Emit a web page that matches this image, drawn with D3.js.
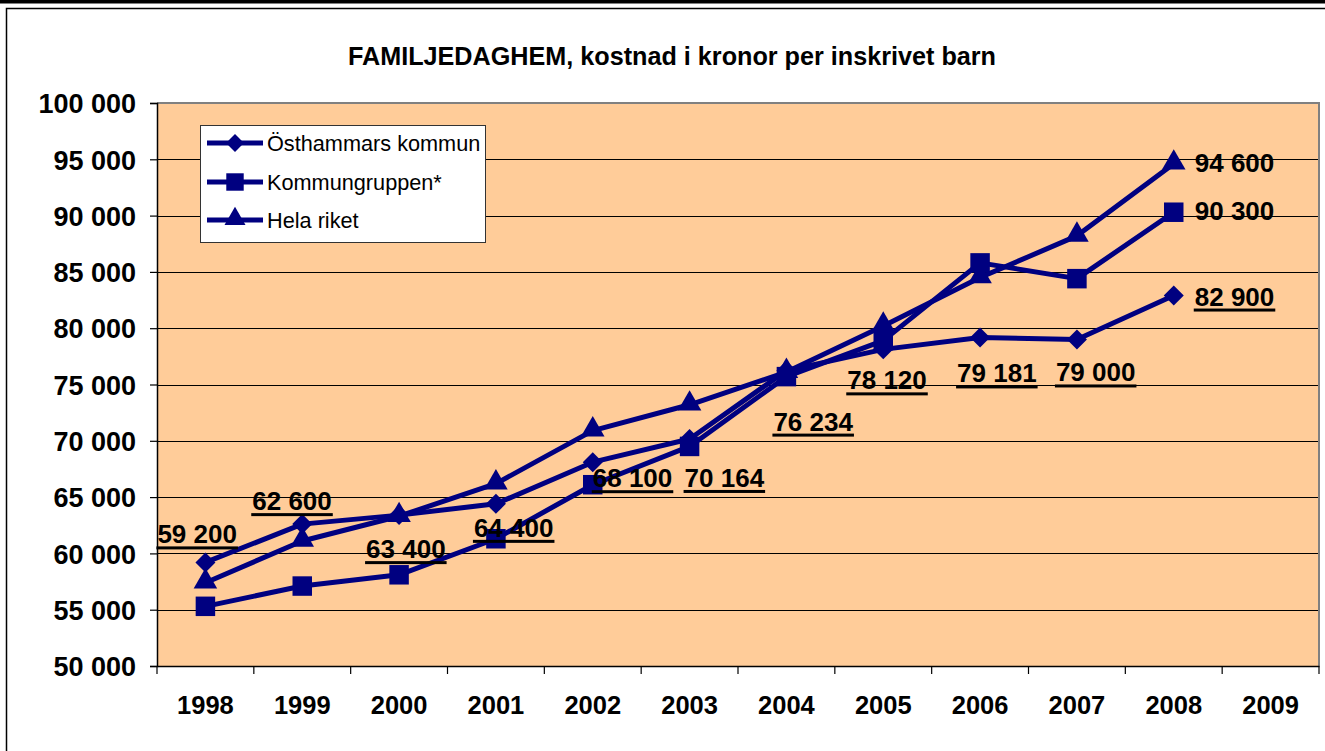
<!DOCTYPE html>
<html><head><meta charset="utf-8">
<script src="https://cdn.jsdelivr.net/npm/d3@7"></script>
<style>
html,body{margin:0;padding:0;background:#fff;}
svg{display:block;font-family:"Liberation Sans",Arial,Helvetica,sans-serif;}
</style></head>
<body><svg id="chart" width="1325" height="751"></svg>
<script>
// ---- data ----
const years = ["1998","1999","2000","2001","2002","2003","2004","2005","2006","2007","2008","2009"];
const osthammar = [59200, 62600, 63400, 64400, 68100, 70164, 76234, 78120, 79181, 79000, 82900, null];
const kommungruppen = [55300, 57100, 58100, 61300, 66100, 69500, 75700, 78900, 85800, 84400, 90300, null];
const helaRiket = [57400, 61100, 63300, 66200, 70900, 73200, 76100, 80200, 84500, 88200, 94600, null];
const seriesNames = ["Östhammars kommun", "Kommungruppen*", "Hela riket"];
const yTicks = [50000, 55000, 60000, 65000, 70000, 75000, 80000, 85000, 90000, 95000, 100000];

// label placement (layout, px offsets from the point): [seriesIndex, yearIndex, dx, dy, underline]
const labelPlacement = [
  [0,0,-48,-19,true],[0,1,-50,-14,true],[0,2,-33,43,true],[0,3,-22,33,true],
  [0,4,0,25,true],[0,5,-5,48,true],[0,6,-13,60,true],[0,7,-36,40,true],
  [0,8,-23,45,true],[0,9,-21,42,true],[0,10,21,10,true],
  [1,10,21,8,false],[2,10,21,8,false]
];

const fmt = v => d3.format(",")(v).replace(/,/g, " ");

const svg = d3.select("#chart");
const navy = "#000080";
const M = {left:157, right:1319, top:103, bottom:666};

// outer frame
svg.append("rect").attr("x",0).attr("y",0).attr("width",1325).attr("height",3.5).attr("fill","#000");
svg.append("path").attr("d","M6.5,751 V8.5 H1325").attr("fill","none").attr("stroke","#000").attr("stroke-width",1.5);

const x = d3.scaleBand().domain(years).range([M.left, M.right]).paddingInner(0).paddingOuter(0);
const y = d3.scaleLinear().domain([50000,100000]).range([M.bottom, M.top]);

// plot background
svg.append("rect").attr("x",M.left).attr("y",M.top).attr("width",M.right-M.left).attr("height",M.bottom-M.top)
  .attr("fill","#FFCC99");

// gridlines
svg.append("g").selectAll("line").data(yTicks.filter(t=>t>50000 && t<100000)).join("line")
  .attr("x1",M.left).attr("x2",M.right)
  .attr("y1",d=>Math.round(y(d))+0.5).attr("y2",d=>Math.round(y(d))+0.5)
  .attr("stroke","#000").attr("stroke-width",1);

// plot border (top/right gray)
svg.append("path").attr("d",`M${M.left},${M.top} H${M.right} V${M.bottom}`)
  .attr("fill","none").attr("stroke","#808080").attr("stroke-width",2);

// y axis
const yAxis = d3.axisLeft(y).tickValues(yTicks).tickSize(7).tickPadding(14).tickFormat(fmt);
const gy = svg.append("g").attr("transform",`translate(${M.left},0)`).call(yAxis);
gy.select(".domain").attr("stroke","#000").attr("stroke-width",1.5);
gy.selectAll(".tick line").attr("stroke","#000").attr("stroke-width",1.2);
gy.selectAll(".tick text").attr("font-size",27).attr("font-weight","bold").attr("fill","#000")
  .attr("font-family","'Liberation Sans',Arial,sans-serif").attr("dy","0.36em");

// x axis
const xAxis = d3.axisBottom(x).tickSize(0).tickPadding(0);
const gx = svg.append("g").attr("transform",`translate(0,${M.bottom})`).call(xAxis);
gx.select(".domain").attr("stroke","#000").attr("stroke-width",1.5);
gx.selectAll(".tick text").attr("font-size",25.5).attr("font-weight","bold").attr("fill","#000")
  .attr("font-family","'Liberation Sans',Arial,sans-serif").attr("y",48).attr("dy",0);
// category boundary ticks
const bounds = years.map(d=>x(d)).concat([x(years[years.length-1])+x.bandwidth()]);
gx.append("g").selectAll("line").data(bounds).join("line")
  .attr("x1",d=>d).attr("x2",d=>d).attr("y1",0).attr("y2",8)
  .attr("stroke","#000").attr("stroke-width",1.2);

// series
const allSeries = [osthammar, kommungruppen, helaRiket];
const cx = i => x(years[i]) + x.bandwidth()/2;
const line = d3.line().defined(d=>d.v!=null).x(d=>cx(d.i)).y(d=>y(d.v));

const rhombus = {
  draw(ctx, size){
    const r = Math.sqrt(size/2);
    ctx.moveTo(0,-r); ctx.lineTo(r,0); ctx.lineTo(0,r); ctx.lineTo(-r,0); ctx.closePath();
  }
};
const symbols = [rhombus, d3.symbolSquare, d3.symbolTriangle];
const symSizes = [200, 380, 240];

allSeries.forEach((s,k)=>{
  const pts = s.map((v,i)=>({v,i}));
  svg.append("path").datum(pts).attr("d",line).attr("fill","none")
    .attr("stroke",navy).attr("stroke-width",5).attr("stroke-linejoin","round");
});
allSeries.forEach((s,k)=>{
  const pts = s.map((v,i)=>({v,i})).filter(d=>d.v!=null);
  svg.append("g").selectAll("path").data(pts).join("path")
    .attr("transform",d=>`translate(${cx(d.i)},${y(d.v) + (k===2?-1:0)})`)
    .attr("d",d3.symbol().type(symbols[k]).size(symSizes[k]))
    .attr("fill",navy);
});

// data labels
const lg = svg.append("g");
labelPlacement.forEach(([k,i,dx,dy,ul])=>{
  const v = allSeries[k][i];
  const tx = cx(i)+dx, ty = y(v)+dy;
  const t = lg.append("text").attr("x",tx).attr("y",ty).text(fmt(v))
    .attr("font-size",26).attr("font-weight","bold").attr("fill","#000");
  if(ul){
    const w = t.node().getComputedTextLength();
    lg.append("rect").attr("x",tx-1).attr("y",ty+3).attr("width",w+2).attr("height",3).attr("fill","#000");
  }
});

// title
svg.append("text").attr("x",672).attr("y",65).attr("text-anchor","middle")
  .attr("font-size",25.2).attr("font-weight","bold").attr("fill","#000")
  .text("FAMILJEDAGHEM, kostnad i kronor per inskrivet barn");

// legend
const leg = svg.append("g");
leg.append("rect").attr("x",200.5).attr("y",125.5).attr("width",285).attr("height",117)
  .attr("fill","#fff").attr("stroke","#333").attr("stroke-width",1);
const rowY = [143, 182, 220];
seriesNames.forEach((n,k)=>{
  leg.append("line").attr("x1",207).attr("x2",263).attr("y1",rowY[k]).attr("y2",rowY[k])
    .attr("stroke",navy).attr("stroke-width",5);
  leg.append("path").attr("transform",`translate(235,${rowY[k]+(k===2?-1:0)})`)
    .attr("d",d3.symbol().type(symbols[k]).size(symSizes[k]*0.8)).attr("fill",navy);
  leg.append("text").attr("x",267).attr("y",rowY[k]).attr("dy","0.36em")
    .attr("font-size",21.7).attr("fill","#000").text(n);
});
</script></body></html>
